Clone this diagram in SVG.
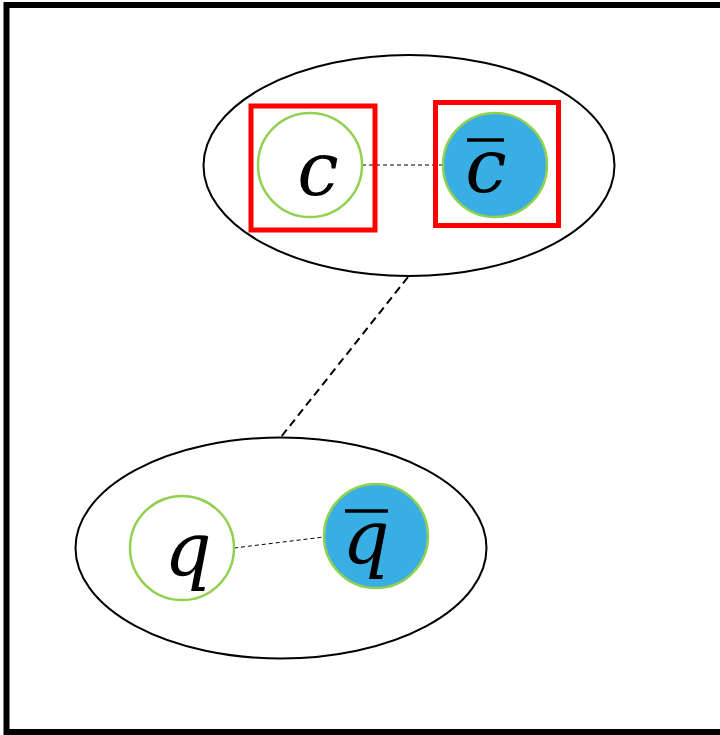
<svg xmlns="http://www.w3.org/2000/svg" width="720" height="735" viewBox="0 0 720 735">
<style>
.frame{fill:none;stroke:#000;stroke-width:6}
.group{fill:none;stroke:#000;stroke-width:2}
.node{stroke:#92D050;stroke-width:2.5}
.plain{fill:#fff}
.anti{fill:#38AEE4}
.sel{fill:none;stroke:#FF0000;stroke-width:5}
.lbl{font-family:"DejaVu Serif","Liberation Serif",serif;font-style:italic;font-size:74px;fill:#000;text-anchor:middle}
.bar{stroke:#000;stroke-width:3.5}
.thin{stroke:#000;stroke-width:1;stroke-dasharray:4 3;fill:none}
.thick{stroke:#000;stroke-width:2;stroke-dasharray:8 5;fill:none}
</style>
<rect width="720" height="735" fill="#fff"/>
<rect class="frame" x="6.5" y="5" width="720" height="727"/>
<g id="connectors">
<line class="thick" x1="408" y1="277" x2="281" y2="437"/>
<line class="thin" x1="362" y1="165" x2="443" y2="165"/>
<line class="thin" x1="234" y1="548" x2="324" y2="537"/>
</g>
<g id="charm-pair"><ellipse class="group" cx="409" cy="165.5" rx="205.5" ry="110.5"/></g>
<g id="quark-pair"><ellipse class="group" cx="281" cy="548" rx="205.5" ry="110.5"/></g>
<g id="c">
<circle class="node plain" cx="310" cy="165" r="52"/>
<text class="lbl" x="318" y="195">c</text>
<rect class="sel" x="251" y="106" width="124" height="124"/>
</g>
<g id="cbar">
<circle class="node anti" cx="495" cy="165" r="52"/>
<text class="lbl" x="486" y="192">c</text>
<line class="bar" x1="467" y1="140" x2="504" y2="140"/>
<rect class="sel" x="435.5" y="102.5" width="123" height="123"/>
</g>
<g id="q">
<circle class="node plain" cx="182" cy="548" r="52"/>
<text class="lbl" x="188" y="575">q</text>
</g>
<g id="qbar">
<circle class="node anti" cx="376" cy="536" r="52"/>
<text class="lbl" x="366" y="563">q</text>
<line class="bar" x1="345" y1="511" x2="388" y2="511"/>
</g>
</svg>
